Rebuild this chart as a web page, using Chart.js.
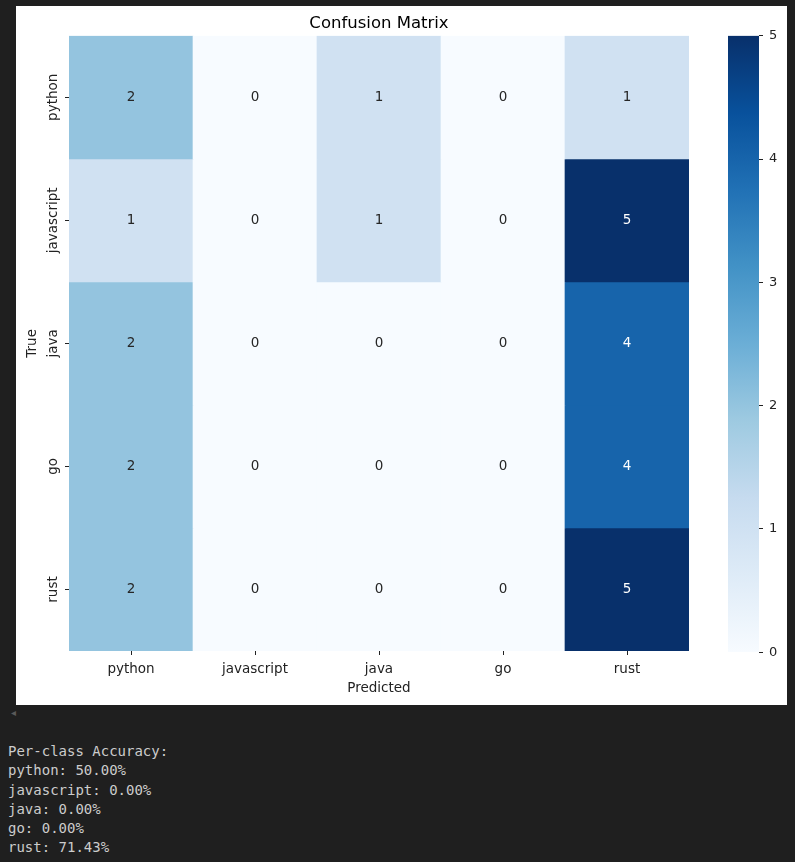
<!DOCTYPE html>
<html>
<head>
<meta charset="utf-8">
<script src="https://cdn.jsdelivr.net/npm/chart.js@4.4.0/dist/chart.umd.min.js"></script>
<style>
body { margin: 0; background: #1f1f1f; width: 795px; height: 862px; overflow: hidden; position: relative; }
#panel { position: absolute; left: 16px; top: 6px; width: 771px; height: 699px; background: #fff; }
#heat { position: absolute; left: 0; top: 0; }
#bar { position: absolute; left: 712px; top: 16px; }
#arrow { position: absolute; left: 11px; top: 707px; color: #5a5a5a; font: 10px "DejaVu Sans"; }
#out { position: absolute; left: 8px; top: 742px; font-family: "DejaVu Sans Mono", monospace; font-size: 14px; line-height: 19.3px; color: #cccccc; white-space: pre; }
</style>
</head>
<body>
<div id="panel">
  <canvas id="heat" width="700" height="699"></canvas>
  <canvas id="bar" width="61" height="644"></canvas>
</div>
<div id="arrow">◂</div>
<div id="out"></div>
<script>
// labels
const predicted = ['python', 'javascript', 'java', 'go', 'rust'];
const actual = ['python', 'javascript', 'java', 'go', 'rust'];

// confusion matrix rows (true label)
const rowPython = [2, 0, 1, 0, 1];
const rowJavascript = [1, 0, 1, 0, 5];
const rowJava = [2, 0, 0, 0, 4];
const rowGo = [2, 0, 0, 0, 4];
const rowRust = [2, 0, 0, 0, 5];
const matrix = [rowPython, rowJavascript, rowJava, rowGo, rowRust];

const vmin = 0;
const vmax = 5;
const barTicks = [0, 1, 2, 3, 4, 5];

const accuracyLabels = ['python', 'javascript', 'java', 'go', 'rust'];
const accuracyValues = [50.00, 0.00, 0.00, 0.00, 71.43];

// matplotlib "Blues" colormap
const blues = ['#f7fbff', '#deebf7', '#c6dbef', '#9ecae1', '#6baed6', '#4292c6', '#2171b5', '#08519c', '#08306b'];

function hexToRgb(h) {
    return [parseInt(h.substr(1, 2), 16), parseInt(h.substr(3, 2), 16), parseInt(h.substr(5, 2), 16)];
}

function bluesAt(t) {
    t = Math.max(0, Math.min(1, t));
    let pos = t * (blues.length - 1);
    let i = Math.min(Math.floor(pos), blues.length - 2);
    let f = pos - i;
    let a = hexToRgb(blues[i]);
    let b = hexToRgb(blues[i + 1]);
    let c = a.map((v, k) => Math.round(v + (b[k] - v) * f));
    return 'rgb(' + c.join(',') + ')';
}

const inkColor = '#222222';
const fontFamily = '"DejaVu Sans", sans-serif';
const labelSize = 13.5;

const cellLabels = {
    id: 'cellLabels',
    afterDatasetsDraw(chart) {
        const ctx = chart.ctx;
        ctx.save();
        ctx.font = labelSize + 'px ' + fontFamily;
        ctx.textAlign = 'center';
        ctx.textBaseline = 'middle';
        matrix.forEach((row, r) => {
            const meta = chart.getDatasetMeta(r);
            meta.data.forEach((el, c) => {
                const p = el.getCenterPoint();
                const v = row[c];
                ctx.fillStyle = (v - vmin) / (vmax - vmin) > 0.6 ? '#ffffff' : '#262626';
                ctx.fillText(String(v), p.x, p.y);
            });
        });
        // rotated y tick labels
        const yScale = chart.scales.y;
        ctx.fillStyle = inkColor;
        actual.forEach((name, r) => {
            const y = yScale.getPixelForValue(r + 0.5);
            ctx.save();
            ctx.translate(chart.chartArea.left - 16, y);
            ctx.rotate(-Math.PI / 2);
            ctx.fillText(name, 0, 0);
            ctx.restore();
        });
        ctx.restore();
    }
};

new Chart(document.getElementById('heat'), {
    type: 'bar',
    data: {
        labels: predicted,
        datasets: actual.map((name, r) => ({
            label: name,
            data: predicted.map(() => [r, r + 1]),
            backgroundColor: matrix[r].map(v => bluesAt((v - vmin) / (vmax - vmin))),
            borderWidth: 0,
            grouped: false,
            barPercentage: 1,
            categoryPercentage: 1
        }))
    },
    options: {
        responsive: false,
        animation: false,
        layout: { padding: { left: 0, right: 27, top: 0, bottom: 0 } },
        plugins: {
            legend: { display: false },
            tooltip: { enabled: false },
            title: {
                display: true,
                fullSize: false,
                text: 'Confusion Matrix',
                color: '#000',
                font: { family: fontFamily, size: 16.5, weight: 'normal' },
                padding: { top: 8, bottom: 2 }
            }
        },
        scales: {
            x: {
                type: 'category',
                offset: true,
                border: { display: false },
                grid: { drawOnChartArea: false, offset: false, tickLength: 4, color: inkColor },
                ticks: { color: inkColor, font: { family: fontFamily, size: labelSize }, padding: 6, maxRotation: 0 },
                title: { display: true, text: 'Predicted', color: inkColor, font: { family: fontFamily, size: labelSize }, padding: { top: 0, bottom: 8 } },
                afterFit(scale) { scale.height = 54; }
            },
            y: {
                type: 'linear',
                min: 0,
                max: actual.length,
                reverse: true,
                border: { display: false },
                grid: { drawOnChartArea: false, tickLength: 4, color: inkColor },
                ticks: { display: false },
                afterBuildTicks(scale) { scale.ticks = actual.map((_, i) => ({ value: i + 0.5 })); },
                title: { display: true, text: 'True', color: inkColor, font: { family: fontFamily, size: labelSize }, padding: { top: 8, bottom: 0 } },
                afterFit(scale) { scale.width = 53; }
            }
        }
    },
    plugins: [cellLabels]
});

// colorbar
new Chart(document.getElementById('bar'), {
    type: 'bar',
    data: {
        labels: [''],
        datasets: [{
            data: [[vmin, vmax]],
            borderWidth: 0,
            barPercentage: 1,
            categoryPercentage: 1,
            backgroundColor(c) {
                const area = c.chart.chartArea;
                if (!area) return blues[0];
                const g = c.chart.ctx.createLinearGradient(0, area.bottom, 0, area.top);
                blues.forEach((col, i) => g.addColorStop(i / (blues.length - 1), col));
                return g;
            }
        }]
    },
    options: {
        responsive: false,
        animation: false,
        layout: { padding: 0 },
        plugins: { legend: { display: false }, tooltip: { enabled: false } },
        scales: {
            x: { display: false },
            y: {
                position: 'right',
                min: vmin,
                max: vmax,
                border: { display: false },
                grid: { drawOnChartArea: false, tickLength: 4, color: inkColor },
                afterBuildTicks(scale) { scale.ticks = barTicks.map(v => ({ value: v })); },
                ticks: { color: inkColor, font: { family: fontFamily, size: 13 }, padding: 6 },
                afterFit(scale) { scale.width = 30; }
            }
        }
    }
});

let lines = ['Per-class Accuracy:'];
accuracyLabels.forEach((name, i) => lines.push(name + ': ' + accuracyValues[i].toFixed(2) + '%'));
document.getElementById('out').textContent = lines.join('\n');
</script>
</body>
</html>
